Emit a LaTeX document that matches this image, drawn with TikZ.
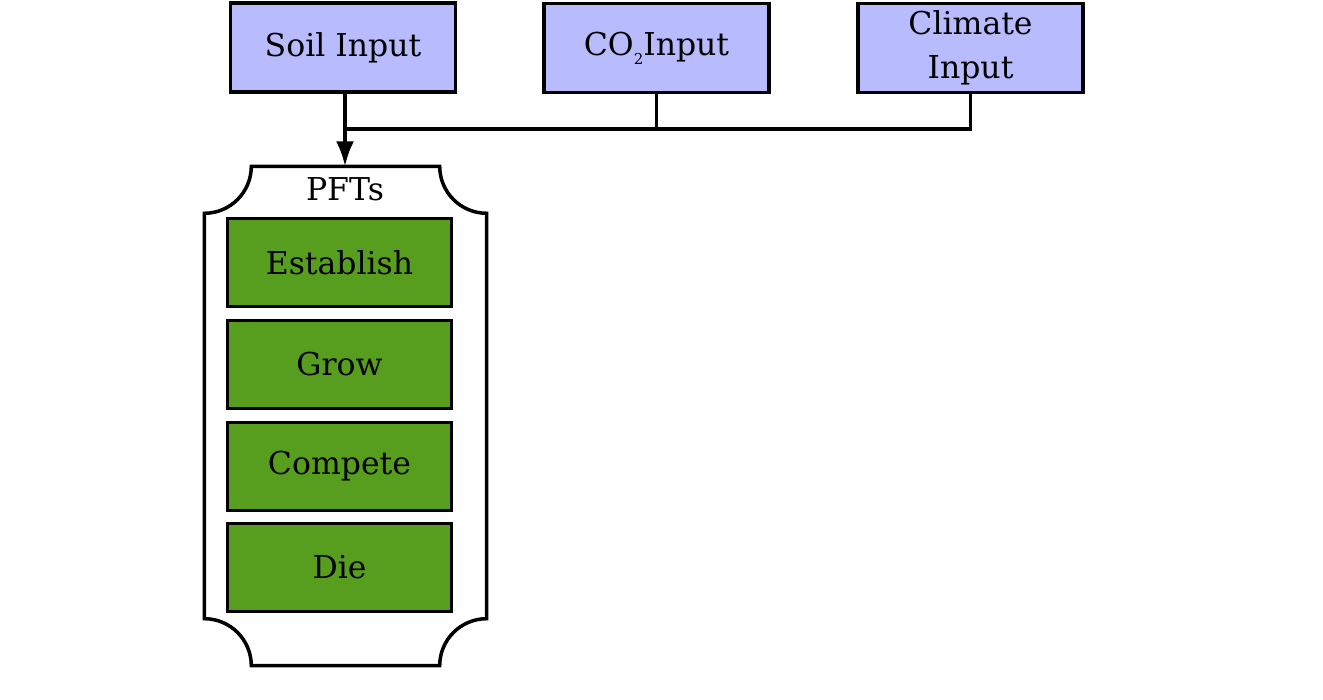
\documentclass[tikz,border=0pt]{standalone}
\usepackage{fontspec}
\setmainfont{DejaVu Serif}
\usetikzlibrary{arrows.meta}
\definecolor{inblue}{RGB}{185,187,255}
\definecolor{pftgreen}{RGB}{87,158,30}
\tikzset{
  bigtext/.style={font=\fontsize{31.5}{44}\selectfont},
  inbox/.style={draw=black, line width=3.5pt, fill=inblue, minimum width=225pt, minimum height=89pt, inner sep=0pt, bigtext, align=center},
  actbox/.style={draw=black, line width=3.5pt, fill=pftgreen, minimum width=224pt, minimum height=88pt, inner sep=0pt, bigtext},
  wire/.style={line width=3.5pt, line cap=rect},
}
\begin{document}
\begin{tikzpicture}[x=1pt,y=1pt]
\useasboundingbox (0,0) rectangle (1323,699);
% top inputs
\node[inbox] (soil) at (343,651.5) {Soil Input};
\node[inbox] (co2) at (656.5,651) {CO\raisebox{-9pt}{\fontsize{15}{15}\selectfont 2}Input};
\node[inbox] (clim) at (970.5,651) {Climate\\Input};
% container
\node[minimum width=282pt, minimum height=499pt, inner sep=0pt] (pfts) at (345.5,283) {};
\def\rr{47}
\draw[line width=3.5pt, fill=white]
  ([xshift=\rr pt]pfts.north west) -- ([xshift=-\rr pt]pfts.north east)
  arc[start angle=180, end angle=270, radius=\rr]
  -- ([yshift=\rr pt]pfts.south east)
  arc[start angle=90, end angle=180, radius=\rr]
  -- ([xshift=\rr pt]pfts.south west)
  arc[start angle=0, end angle=90, radius=\rr]
  -- ([yshift=-\rr pt]pfts.north west)
  arc[start angle=270, end angle=360, radius=\rr] -- cycle;
\node[bigtext] (pftlbl) at (345,510) {PFTs};
\node[actbox] (est) at (339.5,436.5) {Establish};
\node[actbox] (grow) at (339.5,334.5) {Grow};
\node[actbox] (comp) at (339.5,232.5) {Compete};
\node[actbox] (die) at (339.5,131.5) {Die};
% connectors
\coordinate (bus) at (345,570);
\draw[wire] (co2.south) -- (co2.south |- bus);
\draw[wire] (clim.south) -- (clim.south |- bus) -- (bus);
\draw[line width=3.5pt, -{Latex[length=25pt,width=18pt]}] (soil.south -| bus) -- (pfts.north -| bus);
\end{tikzpicture}
\end{document}
